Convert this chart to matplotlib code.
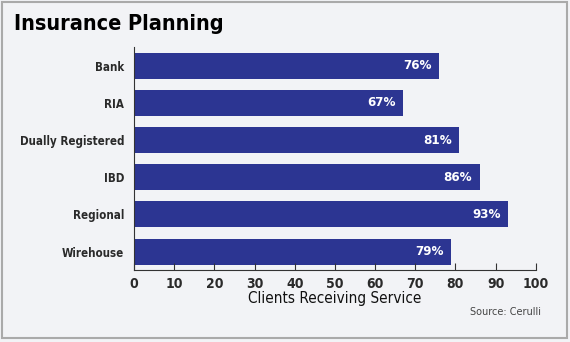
import numpy as np
import matplotlib.pyplot as plt
from matplotlib.patches import Rectangle

categories = ['Bank', 'RIA', 'Dually Registered', 'IBD', 'Regional', 'Wirehouse']
values = [76, 67, 81, 86, 93, 79]
xticks = [0, 10, 20, 30, 40, 50, 60, 70, 80, 90, 100]

plt.rcParams['font.family'] = ['DejaVu Sans']
plt.rcParams['font.stretch'] = 'condensed'
bg = '#f2f3f6'
barcol = '#2c3592'
txt = '#2a2a2a'

fig = plt.figure(figsize=(5.7, 3.42), dpi=100, facecolor=bg)
ax = fig.add_axes([0.235, 0.21, 0.705, 0.652])
ax.set_facecolor(bg)

y = np.arange(len(categories))
ax.barh(y, values, height=0.7, color=barcol)
for yi, v in zip(y, values):
    ax.text(v - 1.8, yi, f'{v}%', color='white', fontweight='bold',
            fontsize=9.5, ha='right', va='center')

ax.set_ylim(5.5, -0.5)
ax.set_xlim(0, 100)
ax.set_yticks(y)
ax.set_yticklabels(categories, fontweight='bold', fontsize=8.3, color=txt)
ax.tick_params(axis='y', length=0, pad=7)
ax.set_xticks(xticks)
ax.set_xticklabels([str(t) for t in xticks], fontweight='bold', color=txt)
ax.tick_params(axis='x', direction='in', length=5, labelsize=10, pad=5, color='#333333')
ax.spines['top'].set_visible(False)
ax.spines['right'].set_visible(False)
ax.spines['left'].set_color('#333333')
ax.spines['bottom'].set_color('#333333')
ax.set_xlabel('Clients Receiving Service', fontsize=11, labelpad=0, color='#111111')

fig.text(0.025, 0.93, 'Insurance Planning', fontsize=15.5, fontweight='bold', va='center')
fig.text(0.95, 0.087, 'Source: Cerulli', fontsize=7, ha='right', va='center',
         color='#444444', fontstretch='normal')

fig.patches.append(Rectangle((0.004, 0.012), 0.99, 0.982, transform=fig.transFigure,
                             fill=False, edgecolor='#aaaaaa', linewidth=1.5))

fig.savefig('out.png', dpi=100, facecolor=bg)
